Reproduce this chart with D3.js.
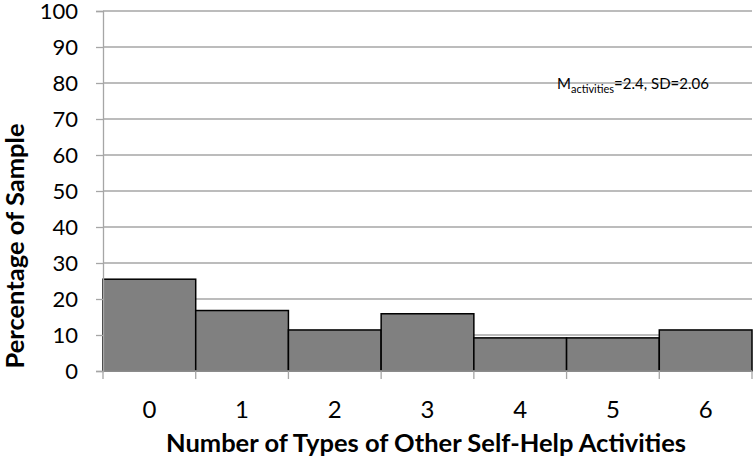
<!DOCTYPE html>
<html lang="en">
<head>
  <meta charset="UTF-8">
  <script src="https://d3js.org/d3.v7.min.js"></script>
  <style>
    body { margin: 0; background: white; }
    text { font-family: Lato, "Open Sans", sans-serif; fill: #000; }
  </style>
</head>
<body>
<div id="chart"></div>
<script>
  // data
  const categories = ["0", "1", "2", "3", "4", "5", "6"];
  const percentages = [25.5, 16.8, 11.4, 15.9, 9.2, 9.2, 11.4];
  const yTicks = [0, 10, 20, 30, 40, 50, 60, 70, 80, 90, 100];

  const W = 753, H = 460;
  const margin = { top: 11, right: 1, bottom: 89, left: 103 };
  const width = W - margin.left - margin.right,
    height = H - margin.top - margin.bottom;

  const svg = d3.select("#chart").append("svg")
    .attr("width", W).attr("height", H);
  const g = svg.append("g")
    .attr("transform", `translate(${margin.left},${margin.top})`);

  const x = d3.scaleBand().domain(categories).range([0, width]).padding(0);
  const y = d3.scaleLinear().domain([0, 100]).range([height, 0]);

  // gridlines
  g.append("g").selectAll("line")
    .data(yTicks.filter(d => d > 0))
    .enter().append("line")
    .attr("x1", 0).attr("x2", width)
    .attr("y1", d => y(d)).attr("y2", d => y(d))
    .attr("stroke", "#a6a6a6").attr("stroke-width", 1.3);

  // bars
  g.selectAll(".bar")
    .data(percentages)
    .enter().append("rect")
    .attr("class", "bar")
    .attr("x", (d, i) => x(categories[i]))
    .attr("y", d => y(d))
    .attr("width", x.bandwidth())
    .attr("height", d => height - y(d))
    .attr("fill", "#808080")
    .attr("stroke", "#000")
    .attr("stroke-width", 1.5);

  // y axis
  const yAxis = g.append("g")
    .call(d3.axisLeft(y).tickValues(yTicks).tickSize(7).tickPadding(18));
  yAxis.select(".domain").attr("stroke", "#a6a6a6").attr("stroke-width", 1.3);
  yAxis.selectAll(".tick line").attr("stroke", "#a6a6a6").attr("stroke-width", 1.3);
  yAxis.selectAll("text").style("font-size", "22px").attr("dy", "0.36em");

  // x axis: ticks sit between categories like in Excel
  const xAxisG = g.append("g").attr("transform", `translate(0,${height})`);
  const bounds = d3.range(categories.length + 1).map(i => i * x.bandwidth());
  xAxisG.append("line")
    .attr("x1", 0).attr("x2", width).attr("y1", 0).attr("y2", 0)
    .attr("stroke", "#a6a6a6").attr("stroke-width", 1.3);
  xAxisG.selectAll(".xtick")
    .data(bounds).enter().append("line")
    .attr("x1", d => d).attr("x2", d => d)
    .attr("y1", 0).attr("y2", 8)
    .attr("stroke", "#a6a6a6").attr("stroke-width", 1.3);
  xAxisG.selectAll(".xlabel")
    .data(categories).enter().append("text")
    .attr("x", d => x(d) + x.bandwidth() / 2)
    .attr("y", 47)
    .attr("text-anchor", "middle")
    .style("font-size", "24px")
    .text(d => d);

  // axis titles
  svg.append("text")
    .attr("x", 426).attr("y", 452)
    .attr("text-anchor", "middle")
    .style("font-size", "25.5px").style("font-weight", "bold")
    .text("Number of Types of Other Self-Help Activities");

  svg.append("text")
    .attr("transform", "translate(24,246) rotate(-90)")
    .attr("text-anchor", "middle")
    .style("font-size", "25.5px").style("font-weight", "bold")
    .text("Percentage of Sample");

  // annotation
  const note = svg.append("text")
    .attr("x", 557).attr("y", 89)
    .style("font-size", "15px");
  note.append("tspan").text("M");
  note.append("tspan").attr("dy", 4).style("font-size", "11px").text("activities");
  note.append("tspan").attr("dy", -4).text("=2.4, SD=2.06");
</script>
</body>
</html>
